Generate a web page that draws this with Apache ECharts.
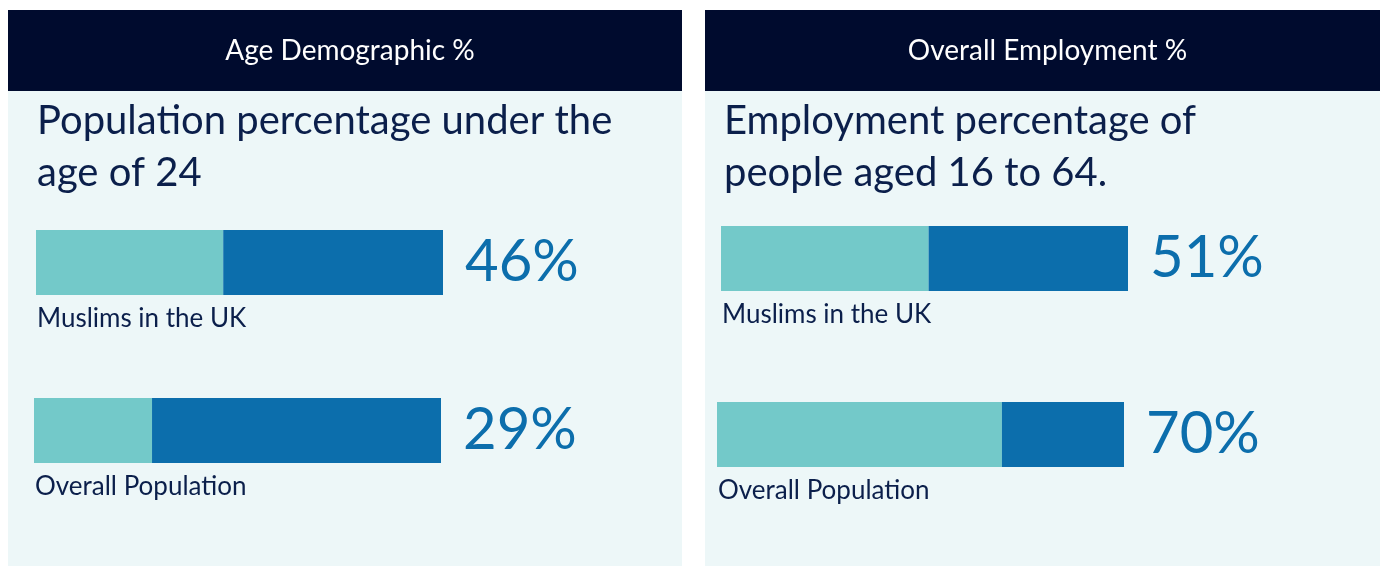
<!DOCTYPE html>
<html>
<head>
<meta charset="utf-8">
<script src="https://cdn.jsdelivr.net/npm/echarts@6/dist/echarts.min.js"></script>
<style>
html,body{margin:0;padding:0;background:#ffffff;}
#chart{width:1380px;height:566px;}
</style>
</head>
<body>
<div id="chart"></div>
<script>
// ---- data ----
const panelHeaders = ['Age Demographic %', 'Overall Employment %'];
const panelSubtitles = ['Population percentage under the\nage of 24', 'Employment percentage of\npeople aged 16 to 64.'];
const categories = ['Muslims in the UK', 'Overall Population'];
const ageValues = [46, 29];
const employmentValues = [51, 70];

// ---- styles ----
const FONT = 'Lato';
const NAVY = '#000B2E';
const PANEL_BG = '#EDF7F8';
const TEAL = '#73C9C9';
const BLUE = '#0C6EAC';
const TEXT = '#0B1F4B';

const chart = echarts.init(document.getElementById('chart'), null, {renderer: 'canvas'});

// bar layout (grid boxes): [panelIndex, categoryIndex, left, top]
const barBoxes = [
  [0, 0, 36, 230],
  [0, 1, 34, 398],
  [1, 0, 721, 226],
  [1, 1, 717, 402]
];
const panelValues = [ageValues, employmentValues];

const grids = [], xAxes = [], yAxes = [], series = [];
barBoxes.forEach(([p, c, left, top], i) => {
  grids.push({left: left, top: top, width: 407, height: 65, containLabel: false});
  xAxes.push({type: 'value', gridIndex: i, min: 0, max: 100, show: false});
  yAxes.push({type: 'category', gridIndex: i, data: [categories[c]], show: false});
  const v = panelValues[p][c];
  series.push({
    type: 'bar', xAxisIndex: i, yAxisIndex: i, stack: 's' + i,
    data: [v], barWidth: 65, itemStyle: {color: TEAL},
    silent: true,
    label: {
      show: true, position: [1, 76], align: 'left', verticalAlign: 'top',
      formatter: categories[c], color: TEXT, fontFamily: FONT, fontSize: 26
    }
  });
  series.push({
    type: 'bar', xAxisIndex: i, yAxisIndex: i, stack: 's' + i,
    data: [100 - v], barWidth: 65, itemStyle: {color: BLUE},
    silent: true,
    label: {
      show: true, position: 'right', distance: 22,
      formatter: v + '%', color: BLUE, fontFamily: FONT, fontSize: 58
    }
  });
});

const titles = [];
[[8, 674], [705, 675]].forEach(([x, w], p) => {
  titles.push({
    text: panelHeaders[p], left: x + w / 2, top: 32, textAlign: 'center',
    textStyle: {color: '#FFFFFF', fontFamily: FONT, fontSize: 28, fontWeight: 'normal'}
  });
  titles.push({
    text: panelSubtitles[p], left: p === 0 ? 32 : 719, top: 90,
    textStyle: {color: TEXT, fontFamily: FONT, fontSize: 40, fontWeight: 'normal', lineHeight: 52}
  });
});

chart.setOption({
  animation: false,
  backgroundColor: '#FFFFFF',
  graphic: [
    {type: 'rect', z: -10, shape: {x: 8, y: 10, width: 674, height: 81}, style: {fill: NAVY}},
    {type: 'rect', z: -10, shape: {x: 8, y: 91, width: 674, height: 475}, style: {fill: PANEL_BG}},
    {type: 'rect', z: -10, shape: {x: 705, y: 10, width: 675, height: 81}, style: {fill: NAVY}},
    {type: 'rect', z: -10, shape: {x: 705, y: 91, width: 675, height: 475}, style: {fill: PANEL_BG}}
  ],
  title: titles,
  grid: grids,
  xAxis: xAxes,
  yAxis: yAxes,
  series: series
});
</script>
</body>
</html>
